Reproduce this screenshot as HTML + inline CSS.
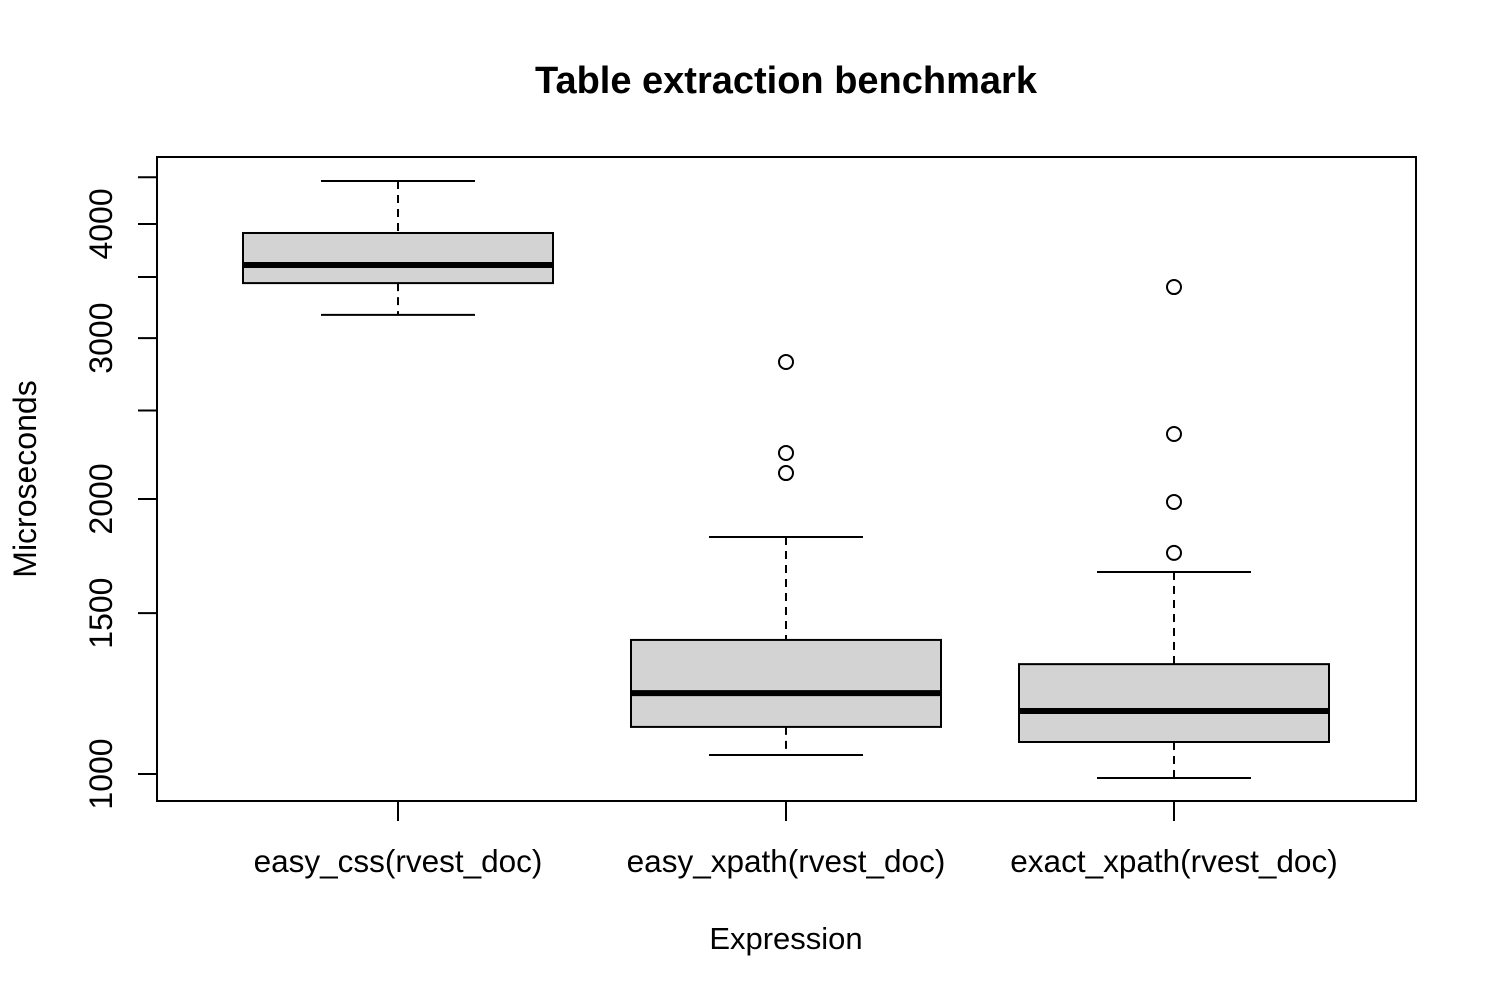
<!DOCTYPE html>
<html><head><meta charset="utf-8"><style>
html,body{margin:0;padding:0;background:#fff;}
svg{display:block;font-family:"Liberation Sans",Arial,sans-serif;}
</style></head><body>
<svg id="chart" width="1497" height="998" viewBox="0 0 1497 998">
<text x="786" y="93" text-anchor="middle" font-size="38" font-weight="bold">Table extraction benchmark</text>
<rect x="157" y="157" width="1259" height="644" fill="none" stroke="#000" stroke-width="2"/>
<text x="786" y="949" text-anchor="middle" font-size="31">Expression</text>
<text transform="translate(36,479) rotate(-90)" text-anchor="middle" font-size="32">Microseconds</text>
<g id="yaxis"></g>
<g id="xaxis"></g>
<g id="boxes"></g>
</svg>
<script>
const categories = ["easy_css(rvest_doc)", "easy_xpath(rvest_doc)", "exact_xpath(rvest_doc)"];
const whiskerLow = [3181, 1049, 990];
const q1 = [3446, 1126, 1084];
const medians = [3607, 1226, 1172];
const q3 = [3910, 1402, 1319];
const whiskerHigh = [4457, 1817, 1664];
const outliers = [[], [2825, 2246, 2135], [3412, 2356, 1985, 1746]];
const yTicks = [1000, 1500, 2000, 2500, 3000, 3500, 4000, 4500];
const yTickLabels = ["1000", "1500", "2000", "", "3000", "", "4000", ""];

const NS = "http://www.w3.org/2000/svg";
function y(v){ return 774 - 913.6 * (Math.log10(v) - 3); }
function x(i){ return 398 + i * 388; }
function mk(tag, attrs, parent){
  const e = document.createElementNS(NS, tag);
  for (const k in attrs) e.setAttribute(k, attrs[k]);
  parent.appendChild(e); return e;
}
const ya = document.getElementById('yaxis');
yTicks.forEach((t, i) => {
  const l = mk('line', {x1:138, x2:157, y1:y(t), y2:y(t), stroke:'#000', 'stroke-width':2}, ya);
  
  
  if (yTickLabels[i]) {
    const tx = mk('text', {transform:`translate(112,${y(t)}) rotate(-90)`, 'text-anchor':'middle', 'font-size':32}, ya);
    tx.textContent = yTickLabels[i];
    
    
  }
});
const xa = document.getElementById('xaxis');
categories.forEach((c, i) => {
  const l = mk('line', {x1:x(i), x2:x(i), y1:801, y2:821, stroke:'#000', 'stroke-width':2}, xa);
  
  
  const t = mk('text', {x:x(i), y:872, 'text-anchor':'middle', 'font-size':31.5}, xa);
  t.textContent = c;
  
  
});
const bx = document.getElementById('boxes');
categories.forEach((c, i) => {
  const cx = x(i), hw = 155, cw = 77;
  const g = mk('g', {}, bx);
  
  
  mk('line', {x1:cx, x2:cx, y1:y(whiskerHigh[i]), y2:y(q3[i]), stroke:'#000', 'stroke-width':2, 'stroke-dasharray':'8,6'}, g);
  mk('line', {x1:cx, x2:cx, y1:y(q1[i]), y2:y(whiskerLow[i]), stroke:'#000', 'stroke-width':2, 'stroke-dasharray':'8,6'}, g);
  mk('line', {x1:cx-cw, x2:cx+cw, y1:y(whiskerHigh[i]), y2:y(whiskerHigh[i]), stroke:'#000', 'stroke-width':2}, g);
  mk('line', {x1:cx-cw, x2:cx+cw, y1:y(whiskerLow[i]), y2:y(whiskerLow[i]), stroke:'#000', 'stroke-width':2}, g);
  mk('rect', {x:cx-hw, y:y(q3[i]), width:2*hw, height:y(q1[i])-y(q3[i]), fill:'#d3d3d3', stroke:'#000', 'stroke-width':2}, g);
  mk('line', {x1:cx-hw, x2:cx+hw, y1:y(medians[i]), y2:y(medians[i]), stroke:'#000', 'stroke-width':6}, g);
  outliers[i].forEach(o => {
    const p = mk('circle', {cx:cx, cy:y(o), r:7, fill:'none', stroke:'#000', 'stroke-width':2}, g);
    
    
  });
});
</script>
</body></html>
